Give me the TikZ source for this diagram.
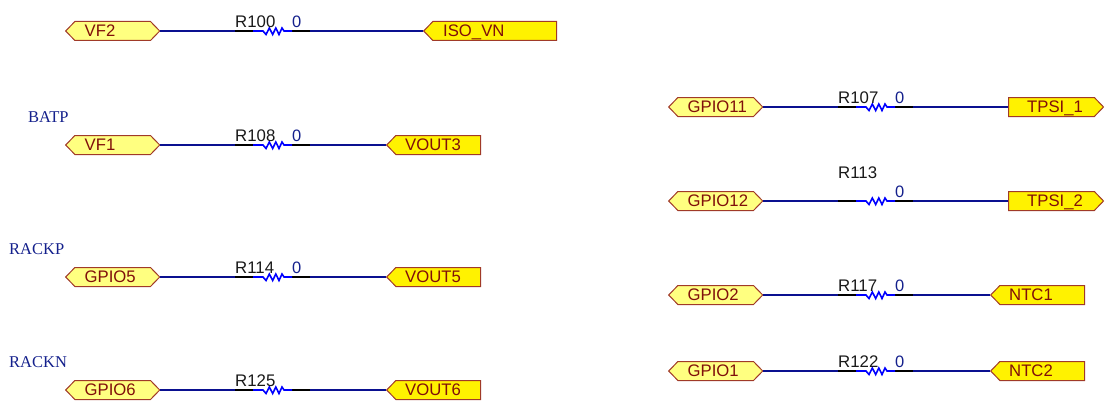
\documentclass[tikz,border=0pt]{standalone}
\usepackage{fontspec}
\setmainfont{Liberation Sans}
\newfontfamily\serifnet{Liberation Serif}
\usetikzlibrary{shapes.symbols}
\definecolor{wirenavy}{HTML}{0A1090}
\definecolor{resblue}{HTML}{0000FF}
\definecolor{valnavy}{HTML}{14208C}
\definecolor{portred}{HTML}{800F0A}
\definecolor{portedge}{HTML}{A03A28}
\definecolor{paleyellow}{HTML}{FFFF80}
\tikzset{
  portbox/.style={draw=portedge,line width=1pt,signal,inner sep=0pt,minimum height=19pt,signal pointer angle=92,anchor=west},
  bipoint/.style={portbox,signal to=west and east,fill=paleyellow,minimum width=94pt},
  outleft/.style={portbox,signal to=west,fill=yellow},
  outright/.style={portbox,signal to=east,fill=yellow,minimum width=95pt},
  porttext/.style={text=portred,font=\fontsize{16.7}{16.7}\selectfont,inner sep=0pt,anchor=base west},
  reflabel/.style={text=black!90,font=\fontsize{16.8}{16.8}\selectfont,inner sep=0pt,anchor=base west},
  vallabel/.style={text=valnavy,font=\fontsize{16.5}{16.5}\selectfont,inner sep=0pt,anchor=base west},
  netlabel/.style={text=valnavy,font=\serifnet\fontsize{16.5}{16.5}\selectfont,inner sep=0pt,anchor=base west},
  wire/.style={draw=wirenavy,line width=1.6pt},
  pinlead/.style={draw=black,line width=1.6pt},
  resbody/.style={draw=resblue,line width=1.6pt,line join=miter}
}
% #1 id, #2 shift x, #3 y, #4 left text, #5 ref dy, #6 value, #7 value dy, #8 right port x (relative), #9 right port style
\newcommand{\resrow}[9]{%
  \begin{scope}[shift={(#2,#3)}]
    \node[bipoint] (#1-l) at (65,0) {};
    \node[porttext] (#1-lt) at (84.5,5.5) {#4};
    \coordinate (#1-a) at (235,0);
    \coordinate (#1-b) at (253,0);
    \coordinate (#1-c) at (292,0);
    \coordinate (#1-d) at (310,0);
    \node[#9] (#1-r) at (#8,0) {};
    \draw[wire] (#1-l.east) -- (#1-a);
    \draw[wire] (#1-d) -- (#1-r.west);
    \draw[pinlead] (#1-a) -- (#1-b);
    \draw[pinlead] (#1-c) -- (#1-d);
    \draw[resbody] (#1-b) -- (263,0) -- (266,3.5) -- (269.3,-3) -- (272.7,3.5) -- (275.8,-3) -- (279,3.5) -- (282,-3) -- (284,0) -- (#1-c);
    \node[reflabel] (#1-ref) at (235,#5) {\resreftext};
    \ifx\relax#6\relax\else\node[vallabel] (#1-val) at (292,#7) {#6};\fi
  \end{scope}}
\begin{document}
\begin{tikzpicture}[x=1pt,y=-1pt]
  \useasboundingbox (0,0) rectangle (1110,412);
  \def\resreftext{R100}
  \resrow{a}{0}{31}{VF2}{-3.5}{0}{-3.5}{423}{outleft,minimum width=133pt}
  \node[porttext] (a-rt) at (443,36.5) {ISO\_VN};
  \def\resreftext{R108}
  \resrow{b}{0}{145}{VF1}{-3.5}{0}{-3.5}{386}{outleft,minimum width=94pt}
  \node[porttext] (b-rt) at (405,150.5) {VOUT3};
  \def\resreftext{R114}
  \resrow{c}{0}{277}{GPIO5}{-3.5}{0}{-3.5}{386}{outleft,minimum width=94pt}
  \node[porttext] (c-rt) at (405,282.5) {VOUT5};
  \def\resreftext{R125}
  \resrow{d}{0}{390}{GPIO6}{-4}{}{-3.5}{386}{outleft,minimum width=94pt}
  \node[porttext] (d-rt) at (405,395.5) {VOUT6};
  \def\resreftext{R107}
  \resrow{e}{603}{107}{GPIO11}{-3.5}{0}{-3.5}{405}{outright}
  \node[porttext] (e-rt) at (1027,112.5) {TPSI\_1};
  \def\resreftext{R113}
  \resrow{f}{603}{201}{GPIO12}{-23}{0}{-4}{405}{outright}
  \node[porttext] (f-rt) at (1027,206.5) {TPSI\_2};
  \def\resreftext{R117}
  \resrow{g}{603}{295}{GPIO2}{-3.5}{0}{-3.5}{387}{outleft,minimum width=94pt}
  \node[porttext] (g-rt) at (1009,300.5) {NTC1};
  \def\resreftext{R122}
  \resrow{h}{603}{371}{GPIO1}{-3.5}{0}{-3.5}{387}{outleft,minimum width=94pt}
  \node[porttext] (h-rt) at (1009,376.5) {NTC2};
  \node[netlabel] (batp) at (28,122) {BATP};
  \node[netlabel] (rackp) at (9,254) {RACKP};
  \node[netlabel] (rackn) at (9,367) {RACKN};
\end{tikzpicture}
\end{document}
